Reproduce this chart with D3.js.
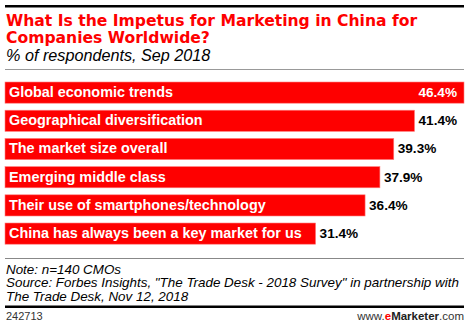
<!DOCTYPE html>
<html><head><meta charset="utf-8">
<script src="https://cdn.jsdelivr.net/npm/d3@7"></script>
<style>body{margin:0;background:#fff}svg{display:block}</style>
</head><body>
<svg id="c" width="470" height="328"></svg>
<script>
const categories = ["Global economic trends","Geographical diversification","The market size overall","Emerging middle class","Their use of smartphones/technology","China has always been a key market for us"];
const values = [46.4, 41.4, 39.3, 37.9, 36.4, 31.4];
const titleLines = ["What Is the Impetus for Marketing in China for","Companies Worldwide?"];
const subtitle = "% of respondents, Sep 2018";
const notes = ["Note: n=140 CMOs","Source: Forbes Insights, \"The Trade Desk - 2018 Survey\" in partnership with","The Trade Desk, Nov 12, 2018"];
const chartId = "242713";

const svg = d3.select("#c");
const L = 5, R = 464;
const red = "#fe0000";

svg.append("rect").attr("x",L).attr("y",5).attr("width",R-L).attr("height",2.5).attr("fill","#000");
svg.selectAll("text.title").data(titleLines).enter().append("text")
  .attr("x",L+1).attr("y",(d,i)=>26+i*17).text(d=>d)
  .attr("font-family","DejaVu Sans").attr("font-weight","bold").attr("font-size",15.6).attr("fill",red);
svg.append("text").attr("x",L+1).attr("y",61).text(subtitle)
  .attr("font-family","Liberation Sans").attr("font-style","italic").attr("font-size",16.2).attr("fill","#000");
svg.append("rect").attr("x",L).attr("y",69).attr("width",R-L).attr("height",1).attr("fill","#999");

const x = d3.scaleLinear().domain([0, 46.4]).range([L, R]);
const step = 28.2, bh = 21.2;
const y = d3.scaleBand().domain(categories).range([82, 82 + 5*step + bh]).paddingInner((step-bh)/step).paddingOuter(0);

const g = svg.append("g");
g.selectAll("rect.bar").data(categories).enter().append("rect")
  .attr("x",x(0)).attr("y",d=>y(d)).attr("width",(d,i)=>x(values[i])-x(0)).attr("height",y.bandwidth())
  .attr("fill",red).attr("stroke","#ff8080").attr("stroke-width",0.6);
g.selectAll("text.lab").data(categories).enter().append("text")
  .attr("x",9).attr("y",d=>y(d)+15).text(d=>d)
  .attr("font-family","Liberation Sans").attr("font-weight","bold").attr("font-size",14.4).attr("fill","#fff");
g.selectAll("text.val").data(values).enter().append("text")
  .attr("x",(d,i)=> i===0 ? x(d)-7 : x(d)+4)
  .attr("text-anchor",(d,i)=> i===0 ? "end" : "start")
  .attr("y",(d,i)=>y(categories[i])+15).text(d=>d.toFixed(1)+"%")
  .attr("font-family","Liberation Sans").attr("font-weight","bold").attr("font-size",13.6)
  .attr("fill",(d,i)=> i===0 ? "#fff" : "#000");

svg.append("rect").attr("x",L).attr("y",258).attr("width",R-L).attr("height",1).attr("fill","#888");
svg.selectAll("text.note").data(notes).enter().append("text")
  .attr("x",L+1).attr("y",(d,i)=>273.5+i*13.7).text(d=>d)
  .attr("font-family","Liberation Sans").attr("font-style","italic").attr("font-size",13.4).attr("fill","#000");
svg.append("rect").attr("x",L).attr("y",305.5).attr("width",R-L).attr("height",2.5).attr("fill","#000");
svg.append("text").attr("x",L+1).attr("y",320).text(chartId)
  .attr("font-family","Liberation Sans").attr("font-size",11).attr("fill","#333");
const em = svg.append("text").attr("x",R).attr("y",320).attr("text-anchor","end")
  .attr("font-family","Liberation Sans").attr("font-size",11.5).attr("fill","#333");
em.append("tspan").text("www.");
em.append("tspan").text("e").attr("fill",red).attr("font-weight","bold");
em.append("tspan").text("Marketer").attr("font-weight","bold").attr("fill","#222");
em.append("tspan").text(".com");
</script>
</body></html>
